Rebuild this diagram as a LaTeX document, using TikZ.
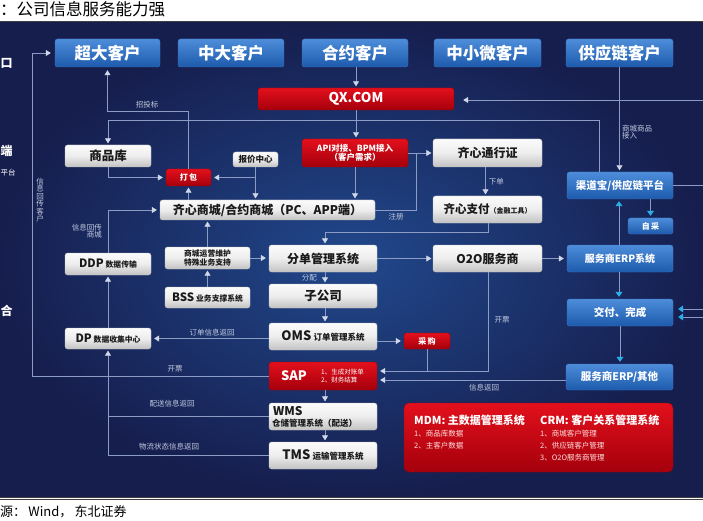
\documentclass[tikz,border=0pt]{standalone}
\usepackage{fontspec}
\setmainfont{Noto Sans CJK SC}
\usetikzlibrary{arrows.meta,calc}
\definecolor{lnc}{HTML}{8D9CC4}
\definecolor{ahc}{HTML}{D0D7E8}
\definecolor{lbc}{HTML}{C2CAE0}
\definecolor{cyc}{HTML}{2AAEE8}
\definecolor{pin}{HTML}{21488C}
\definecolor{pout}{HTML}{161E4E}
\definecolor{wtop}{HTML}{FBFBFB}
\definecolor{wmid}{HTML}{EDEDED}
\definecolor{wbot}{HTML}{C2C2C2}
\definecolor{btop}{HTML}{4D8DDA}
\definecolor{bbot}{HTML}{1D5AAC}
\definecolor{bbrd}{HTML}{3C78C4}
\definecolor{rtop}{HTML}{E3101C}
\definecolor{rbot}{HTML}{A4000C}
\definecolor{txtd}{HTML}{1A1A1A}
\newcommand\fsz[1]{\fontsize{#1}{#1}\selectfont}
\begin{document}
\begin{tikzpicture}[x=1pt,y=-1pt,
  box/.style={rounded corners=2.5pt, inner sep=0pt, align=center, font=\bfseries},
  wbox/.style={box, top color=wtop, bottom color=wbot, middle color=wmid, draw=wbot, line width=0.3pt, text=txtd},
  bbox/.style={box, top color=btop, bottom color=bbot, draw=bbrd, line width=0.4pt, text=white},
  rbox/.style={box, top color=rtop, bottom color=rbot, draw=rbot, line width=0.4pt, text=white},
  ln/.style={draw=lnc, line width=0.65pt},
  arr/.style={ln, -{Triangle[length=5pt,width=6pt,color=ahc]}, shorten >=1.5pt},
  carr/.style={ln, -{Triangle[length=5pt,width=7pt,color=cyc]}, shorten >=2pt},
  lab/.style={text=lbc, font=\fsz{7.5}, inner sep=1pt},
  sz/.style 2 args={minimum width=#1pt, minimum height=#2pt}
]
\path[use as bounding box] (0,0) rectangle (703,521);
\fill[white] (0,0) rectangle (703,521);
\node[anchor=west, inner sep=0, text=black, font=\fsz{16.5}] at (0,9) {：公司信息服务能力强};
\shade[inner color=pin, outer color=pout] (0,23) rectangle (703,496);
\draw[line width=1.6pt, black!75] (0,21.5) -- (703,21.5);
\draw[line width=1.1pt, black!75] (0,497.3) -- (703,497.3);
\draw[line width=0.5pt, black!75] (0,499.6) -- (703,499.6);
\node[anchor=west, inner sep=0, text=black, font=\fsz{13}] at (0,512) {源：\,Wind，\,东北证券};

% side texts
\node[anchor=west, inner sep=0, text=white, font=\fsz{12}\bfseries] at (0.5,63) {口};
\node[anchor=west, inner sep=0, text=white, font=\fsz{12}\bfseries] at (0.5,151) {端};
\node[anchor=west, inner sep=0, text=white, font=\fsz{7.5}] at (0.5,173) {平台};
\node[anchor=west, inner sep=0, text=white, font=\fsz{12}\bfseries] at (0.5,311) {合};

% top row
\node[bbox, sz={105}{28}, font=\fsz{16.5}\bfseries] (c1) at (107.5,53) {超大客户};
\node[bbox, sz={106}{28}, font=\fsz{16.5}\bfseries] (c2) at (231,53) {中大客户};
\node[bbox, sz={106}{28}, font=\fsz{16.5}\bfseries] (c3) at (355,53) {合约客户};
\node[bbox, sz={107}{28}, font=\fsz{16.5}\bfseries] (c4) at (487.5,53) {中小微客户};
\node[bbox, sz={107}{28}, font=\fsz{16.5}\bfseries] (c5) at (619.5,53) {供应链客户};

\node[rbox, sz={196}{22}, font=\fsz{13.5}\bfseries] (qx) at (356,99) {QX.COM};
\node[rbox, sz={106}{28}, font=\fsz{8.5}\bfseries] (api) at (355,153) {API对接、BPM接入\\（客户需求）};

\node[wbox, sz={86}{22}, font=\fsz{12.5}\bfseries] (spk) at (108,156) {商品库};
\node[wbox, sz={45}{15}, font=\fsz{8.5}\bfseries] (bj) at (255.5,159.5) {报价中心};
\node[rbox, sz={45}{17}, font=\fsz{8}\bfseries] (db) at (188.5,177.5) {打\,包};
\node[wbox, sz={215}{20}, font=\fsz{12}\bfseries] (sc) at (267.5,210) {齐心商城/合约商城（PC、APP端）};

\node[wbox, sz={109}{28}, font=\fsz{12}\bfseries] (txz) at (487.5,153) {齐心通行证};
\node[wbox, sz={109}{27}] (zf) at (487.5,209.5) {\fsz{11.5}\bfseries 齐心支付\fsz{7}（金融工具）};
\node[wbox, sz={109}{27}, font=\fsz{12}\bfseries] (o2o) at (487.5,258.5) {O2O服务商};

\node[bbox, sz={106}{27}, font=\fsz{10.5}\bfseries] (qd) at (620,185.5) {渠道宝/供应链平台};
\node[bbox, sz={45}{16}, font=\fsz{8}\bfseries] (zc) at (650.5,226) {自\,采};
\node[bbox, sz={106}{27}, font=\fsz{10}\bfseries] (erp1) at (620,258.5) {服务商ERP系统};
\node[bbox, sz={106}{27}, font=\fsz{10.5}\bfseries] (jf) at (620,312.5) {交付、完成};
\node[bbox, sz={107}{26}, font=\fsz{10.5}\bfseries] (erp2) at (619.5,377) {服务商ERP/其他};

\node[wbox, sz={108}{27}, font=\fsz{12}\bfseries] (fd) at (323,258.5) {分单管理系统};
\node[wbox, sz={108}{24}, font=\fsz{12.5}\bfseries] (zgs) at (323,296) {子公司};
\node[wbox, sz={108}{27}] (oms) at (323,336.5) {\fsz{13}\bfseries OMS\,\fsz{8.5}订单管理系统};
\node[rbox, sz={108}{28}] (sap) at (323,376) {};
\node[anchor=center, text=white, font=\fsz{13}\bfseries, inner sep=0] at (294,376) {SAP};
\node[anchor=west, text=white, font=\fsz{6.5}, inner sep=0, align=left] at (321,376) {1、生成对账单\\[2pt]2、财务结算};
\node[wbox, sz={108}{27}] (wms) at (323,416.5) {};
\node[anchor=west, text=txtd, font=\fsz{12}\bfseries, inner sep=0] at (273,411) {WMS};
\node[anchor=west, text=txtd, font=\fsz{8.5}\bfseries, inner sep=0] at (272,423) {仓储管理系统（配送）};
\node[wbox, sz={108}{27}] (tms) at (323,455.5) {\fsz{13}\bfseries TMS\,\fsz{8.5}运输管理系统};

\node[wbox, sz={85}{22}, font=\fsz{7.8}\bfseries] (yy) at (207.5,258) {商城运营维护\\[1pt]特殊业务支持};
\node[wbox, sz={85}{21}] (bss) at (207.5,297.5) {\fsz{11.5}\bfseries BSS\,\fsz{7.8}业务支撑系统};
\node[wbox, sz={86}{22}] (ddp) at (108,264) {\fsz{11.5}\bfseries DDP\,\fsz{7.8}数据传输};
\node[wbox, sz={86}{21}] (dp) at (108,338.5) {\fsz{11.5}\bfseries DP\,\fsz{7.8}数据收集中心};
\node[rbox, sz={46}{16}, font=\fsz{8}\bfseries] (cg) at (427,341) {采\,购};

% MDM / CRM panel
\node[rbox, rounded corners=5pt, sz={269}{69}] (mc) at (538.5,437.5) {};
\node[anchor=west, text=white, font=\fsz{11}\bfseries, inner sep=0] at (414,420) {MDM: 主数据管理系统};
\node[anchor=west, text=white!88!red, font=\fsz{7.5}, inner sep=0] at (414,434) {1、商品库数据};
\node[anchor=west, text=white!88!red, font=\fsz{7.5}, inner sep=0] at (414,446) {2、主客户数据};
\node[anchor=west, text=white, font=\fsz{11}\bfseries, inner sep=0] at (540,420) {CRM: 客户关系管理系统};
\node[anchor=west, text=white!88!red, font=\fsz{7.5}, inner sep=0] at (540,434) {1、商城客户管理};
\node[anchor=west, text=white!88!red, font=\fsz{7.5}, inner sep=0] at (540,446) {2、供应链客户管理};
\node[anchor=west, text=white!88!red, font=\fsz{7.5}, inner sep=0] at (540,458) {3、O2O服务商管理};

% helper coordinates
\coordinate (y111) at (0,111);
\coordinate (y120) at (0,120);
\coordinate (rr) at (703,0);
\coordinate (qxin) at (703,100);
\coordinate (zr) at (416,210);
\coordinate (j8) at (488,232);
\coordinate (j16) at (488,371);
\coordinate (h380) at (0,380);
\coordinate (l1) at (32,376);
\coordinate (l2) at (32,53);
\coordinate (qdx) at (599,0);
\coordinate (jfa) at (703,309);
\coordinate (jfb) at (703,317);

% connectors
\draw[arr] (qx.north |- c3.south) -- (qx.north);
\draw[arr, shorten >=9pt] (qxin) -- (qx.east |- qxin);
\draw[arr] (qx.south) -- (qx.south |- api.north);
\draw[arr] (api.south) -- (api.south |- sc.north);
\draw[arr] (api.east) -- (txz.west);
\draw[ln] (sc.east) -- (zr) -- (zr |- api.east);
\draw[arr] ([xshift=-2pt]txz.south) -- ([xshift=-2pt]zf.north) node[midway, right, lab, xshift=2pt] {下单};
\draw[arr] (j8 |- zf.south) -- (j8) -| ([xshift=2pt]fd.north);
\draw[arr] (fd.east) -- (o2o.west);
\draw[arr, shorten >=3pt] (o2o.east) -- (erp1.west);
\draw[arr] ([xshift=2pt]fd.south) -- ([xshift=2pt]zgs.north);
\node[lab, anchor=east] at (318,277.5) {分配};
\draw[arr] ([xshift=2pt]zgs.south) -- ([xshift=2pt]oms.north);
\draw[arr] ([xshift=2pt]sap.south) -- ([xshift=2pt]wms.north);
\draw[arr] ([xshift=2pt]wms.south) -- ([xshift=2pt]tms.north);
\draw[arr, shorten >=3pt] (oms.east |- cg.west) -- (cg.west);
\draw[arr, shorten >=3pt] (j16 |- o2o.south) -- (j16) -- (sap.east |- j16);
\draw[ln] (cg.south) -- (cg.south |- j16);
\draw[arr, shorten >=3pt] (erp2.west |- h380) -- (sap.east |- h380);
\draw[arr, shorten >=3pt] (oms.west |- dp.east) -- (dp.east);
\draw[arr, shorten >=4pt] (sap.west) -- (l1) -- (l2) -- (c1.west);
\draw[arr] (dp.north) -- (ddp.south);
\draw[ln] (wms.west) -- (wms.west -| dp.south);
\draw[arr] (tms.west) -- (tms.west -| dp.south) -- (dp.south);
\draw[arr, shorten >=3pt] (ddp.north) -- (ddp.north |- sc.west) -- (sc.west);
\draw[arr] (bss.north) -- (yy.south);
\draw[arr] (yy.north) -- (yy.north |- sc.south);
\draw[arr, shorten >=3pt] (yy.east) -- (fd.west |- yy.east);
\draw[arr, shorten >=3pt] (spk.south) -- (spk.south |- db.west) -- (db.west);
\draw[arr, shorten >=3pt] (bj.south) -- (bj.south |- db.east) -- (db.east);
\draw[arr] (bj.south |- db.east) -- (bj.south |- sc.north);
\draw[arr] (sc.north -| db.south) -- (db.south);
\draw[arr, shorten >=3pt] (db.north) -- (db.north |- y111) -- (c1.south |- y111) -- (c1.south);
\draw[arr] (qdx |- qd.north) -- (qdx |- y120) -- (spk.north |- y120) -- (spk.north);
\draw[arr] (c5.south) -- (c5.south |- qd.north);
\node[lab, anchor=west, align=left] at (621,132) {商城商品\\接入};
\draw[ln] (qd.east) -- (qd.east -| rr);
\draw[carr] (qd.south -| zc.north) -- (zc.north);
\draw[carr] ([xshift=-1pt]erp1.north) -- ([xshift=-1pt]qd.south);
\draw[carr] ([xshift=-1pt]erp1.south) -- ([xshift=-1pt]jf.north);
\draw[carr] (jf.south) -- (jf.south |- erp2.north);
\draw[carr, shorten >=5pt] (jfa) -- (jf.east |- jfa);
\draw[carr, shorten >=5pt] (jfb) -- (jf.east |- jfb);

% labels
\node[lab] at (147,105) {招投标};
\node[lab] at (396,217) {注册};
\node[lab, anchor=east, align=right] at (103,231) {信息回传\\商城};
\node[lab] at (212,333) {订单信息返回};
\node[lab] at (175,369) {开票};
\node[lab] at (172,404) {配送信息返回};
\node[lab] at (169,447) {物流状态信息返回};
\node[lab] at (502,320) {开票};
\node[lab] at (484,388) {信息返回};
\node[lab, align=center, font=\fsz{7.5}] at (40,200) {信\\息\\回\\传\\客\\户};
\end{tikzpicture}
\end{document}
